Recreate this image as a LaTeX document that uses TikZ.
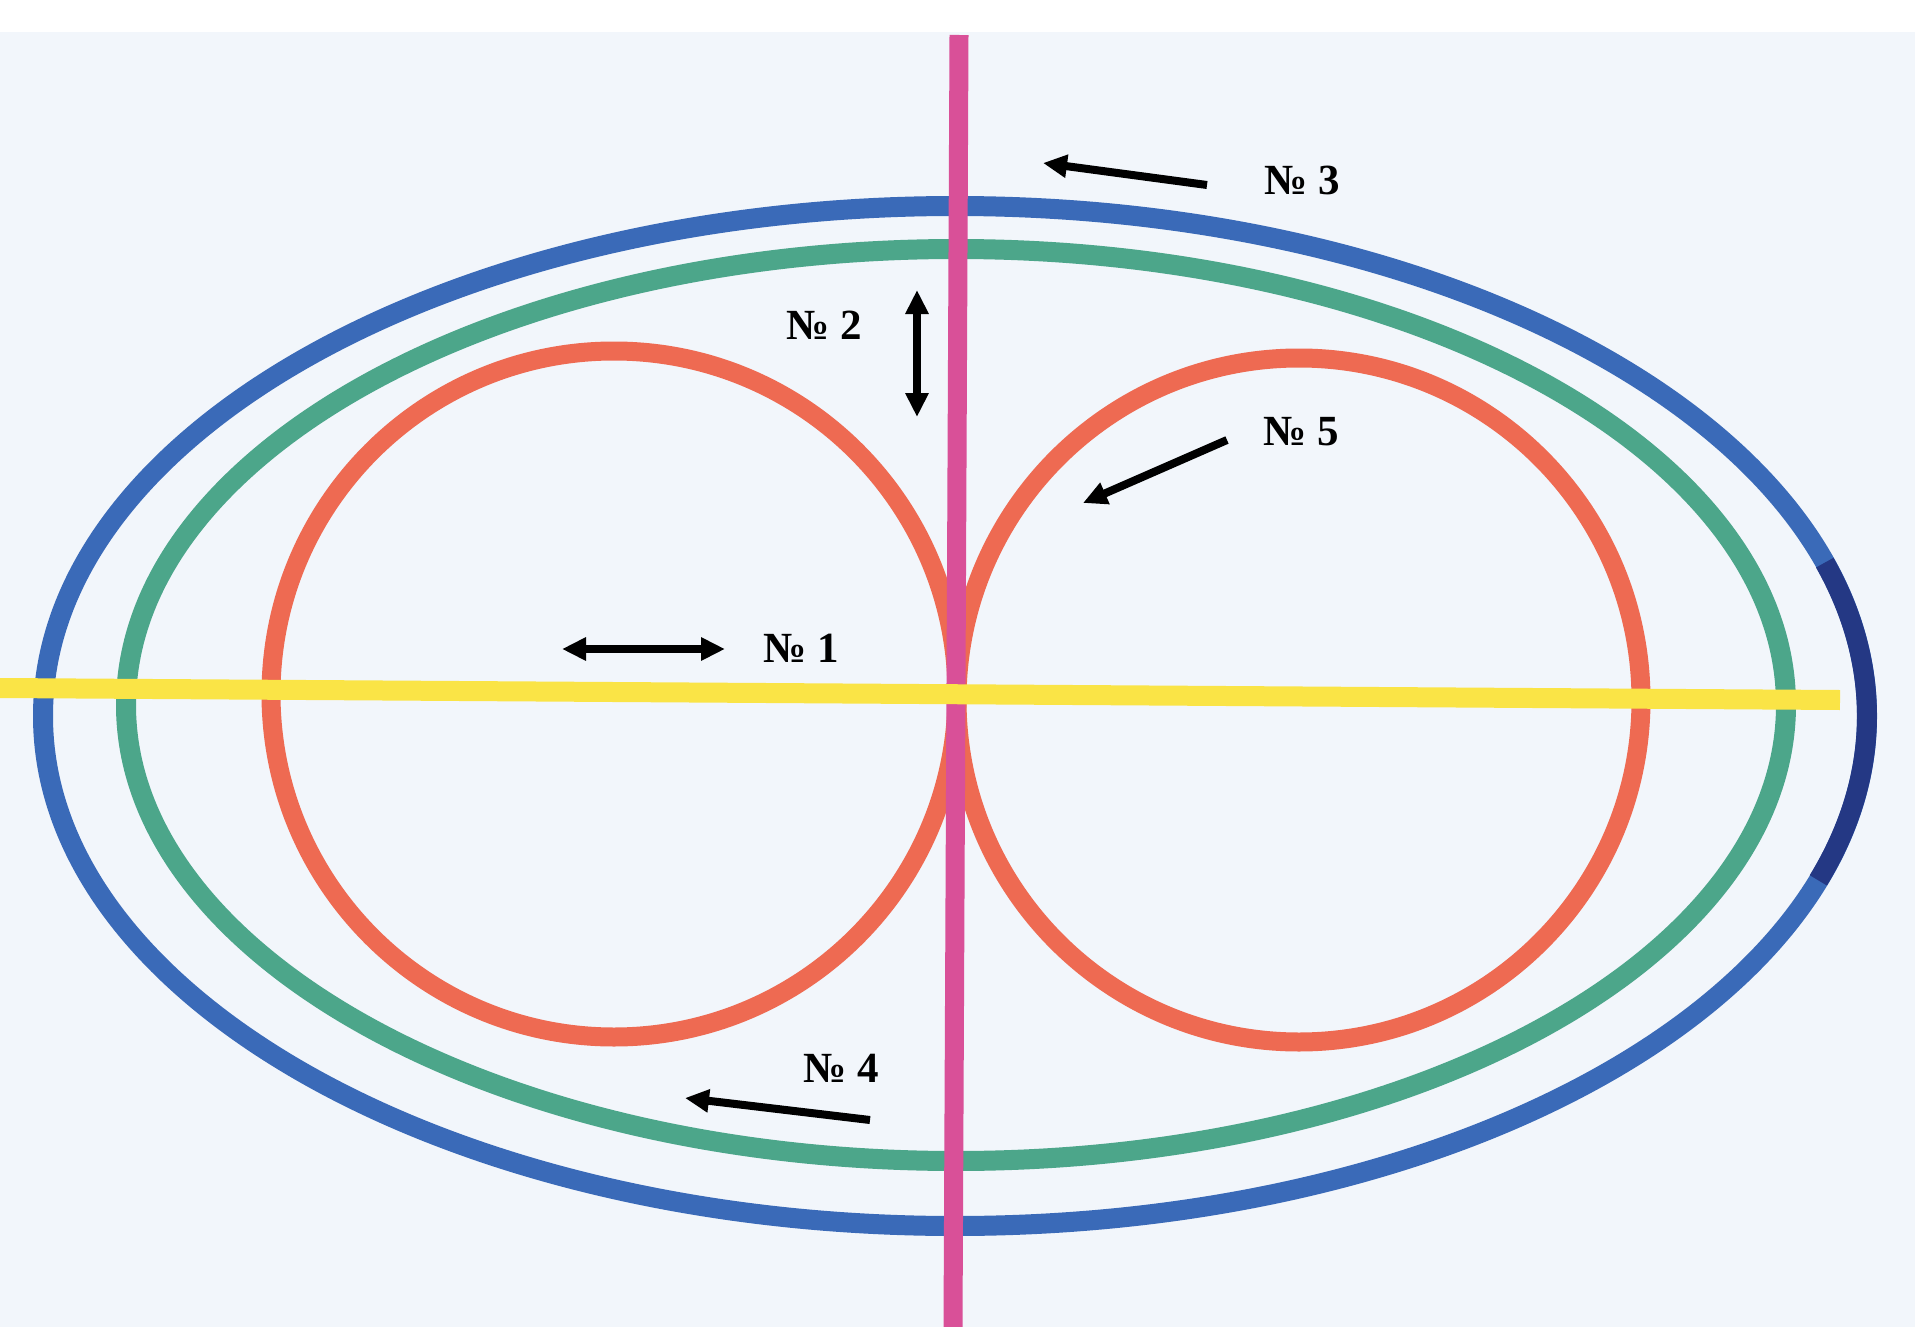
\documentclass[tikz,border=0pt]{standalone}
\usepackage{fontspec}
\setmainfont{Liberation Serif}
\usetikzlibrary{arrows.meta}

\definecolor{paper}{RGB}{242,246,251}
\definecolor{ringblue}{RGB}{58,106,184}
\definecolor{ringnavy}{RGB}{36,56,132}
\definecolor{ringgreen}{RGB}{76,166,138}
\definecolor{ringred}{RGB}{238,106,82}
\definecolor{axispink}{RGB}{217,80,152}
\definecolor{axisyellow}{RGB}{250,228,70}

\tikzset{
  lbl/.style={font=\fontsize{43}{43}\selectfont\bfseries, inner sep=0pt},
  pointer/.style={line width=8pt, -{Triangle[length=24pt,width=22pt]}},
  twoway/.style={line width=8pt, {Triangle[length=24pt,width=22pt]}-{Triangle[length=24pt,width=22pt]}}
}

\begin{document}
\begin{tikzpicture}[x=1pt,y=1pt,yscale=-1]
\useasboundingbox (0,0) rectangle (1915,1327);

%Background
\fill[paper] (0,32) rectangle (1915,1327);

%Outer ring
\draw[ringblue,line width=20pt] (955,716) ellipse [x radius=912, y radius=510];
\draw[ringnavy,line width=20pt] (955,716) ++(-17.5:912 and 510) arc [start angle=-17.5, end angle=18.8, x radius=912, y radius=510];
%Middle ring
\draw[ringgreen,line width=20pt] (956,705) ellipse [x radius=830, y radius=456];
%Two circles
\draw[ringred,line width=19pt] (614,694) circle [radius=343];
\draw[ringred,line width=19pt] (1299,700) circle [radius=342];

%Axes
\draw[axispink,line width=19pt] (959,35) -- (953,1327);
\draw[axisyellow,line width=20pt] (0,688) -- (1840,700);

% Text Nodes
\node[lbl] (n1) at (801,648) {№ 1};
\node[lbl] (n2) at (824,325) {№ 2};
\node[lbl] (n3) at (1302,180) {№ 3};
\node[lbl] (n4) at (841,1068) {№ 4};
\node[lbl] (n5) at (1301,432) {№ 5};

%Arrows
\coordinate (a1s) at (562,649);
\coordinate (a1e) at (725,649);
\coordinate (a2s) at (917,290);
\coordinate (a2e) at (917,417);
\coordinate (a3s) at (1207,185);
\coordinate (a3e) at (1043,163);
\coordinate (a4s) at (870,1120);
\coordinate (a4e) at (685,1098);
\coordinate (a5s) at (1227,440);
\coordinate (a5e) at (1083,503);
\draw[twoway] (a1s) -- (a1e);
\draw[twoway] (a2s) -- (a2e);
\draw[pointer] (a3s) -- (a3e);
\draw[pointer] (a4s) -- (a4e);
\draw[pointer] (a5s) -- (a5e);

\end{tikzpicture}
\end{document}
